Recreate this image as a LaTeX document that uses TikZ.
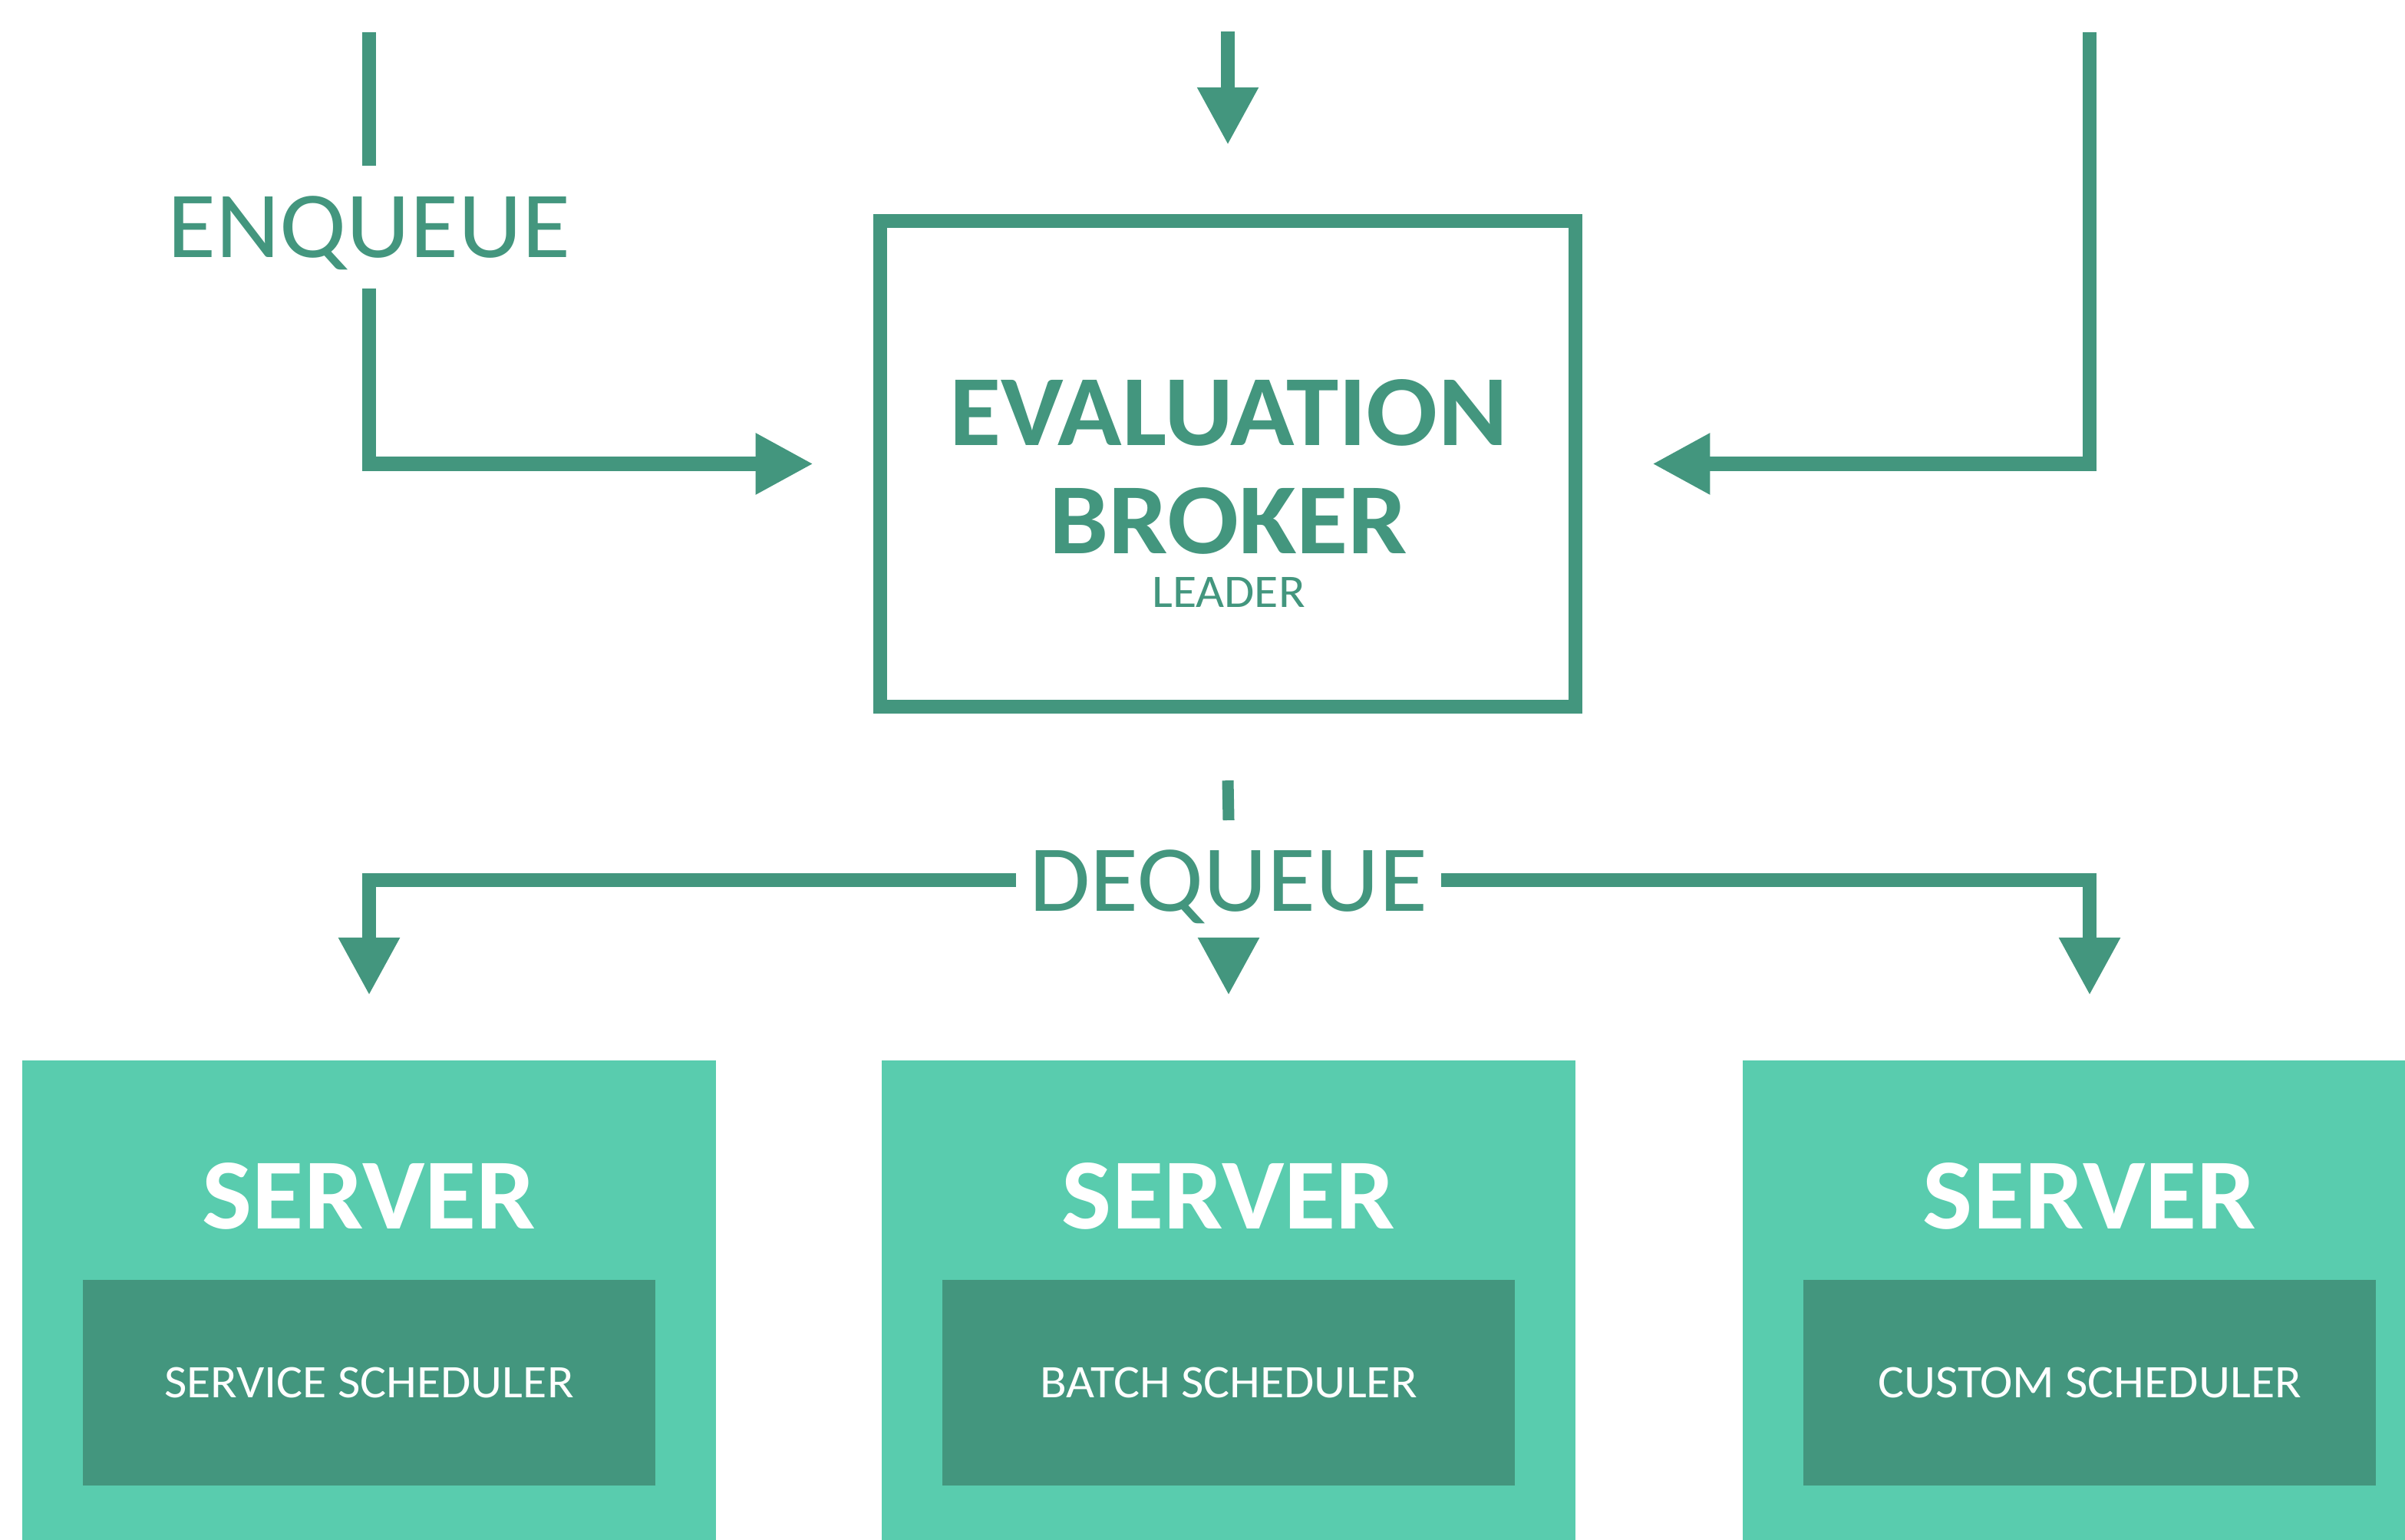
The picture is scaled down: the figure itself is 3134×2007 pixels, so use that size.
\documentclass[tikz,border=0pt]{standalone}
\usepackage{fontspec}
\setmainfont{Carlito}[FakeStretch=1.05]
\usetikzlibrary{arrows.meta,calc}
\definecolor{dk}{RGB}{67,150,126}
\definecolor{lt}{RGB}{89,204,174}
\begin{document}
\begin{tikzpicture}[x=0.01cm,y=-0.01cm,
  conn/.style={draw=dk,line width=0.18cm,line join=miter},
  arr/.style={-{Triangle[length=0.75cm,width=0.75cm]}},
  flowlbl/.style={text=dk,inner sep=0pt,outer sep=0pt,text depth=0pt,font=\fontsize{35pt}{40pt}\selectfont},
  brokerbox/.style={draw=dk,line width=0.18cm,minimum width=9.06cm,minimum height=6.33cm,inner sep=0pt,outer sep=0pt},
  brokertitle/.style={text=dk,inner sep=0pt,outer sep=0pt,anchor=base,font=\fontsize{37.3pt}{40.1pt}\selectfont\bfseries},
  brokersub/.style={text=dk,inner sep=0pt,outer sep=0pt,anchor=base,font=\fontsize{17.3pt}{20pt}\selectfont},
  server/.style={fill=lt,minimum width=9.04cm,minimum height=7cm,inner sep=0pt,outer sep=0pt,anchor=north},
  servertitle/.style={text=white,inner sep=0pt,outer sep=0pt,anchor=base,font=\fontsize{37.3pt}{40pt}\selectfont\bfseries},
  sched/.style={fill=dk,text=white,minimum width=7.46cm,minimum height=2.68cm,inner sep=0pt,outer sep=0pt,text depth=0pt,font=\fontsize{17.3pt}{20pt}\selectfont}
]
\useasboundingbox (0,0) rectangle (3134,2007);
\clip (0,0) rectangle (3134,2007);
\fill[white] (0,0) rectangle (3134,2007);

% broker
\node[brokerbox] (broker) at (1600,604.5) {};
\node[brokertitle] (btitleA) at (1601,581) {EVALUATION};
\node[brokertitle] (btitleB) at (1601,722) {BROKER};
\node[brokersub] (bsub) at (1601,791) {LEADER};

% enqueue
\coordinate (inL) at (481,42);
\coordinate (inM) at (1600,41);
\coordinate (inR) at (2723,42);
\node[flowlbl,text height=0.78cm,minimum height=1.6cm] (enq) at (481,296) {ENQUEUE};
\draw[conn] (inL) -- (enq.north);
\draw[conn,arr] (enq.south) |- ($(broker.west)+(-87,0)$);
\draw[conn,arr] (inM) -- ($(broker.north)+(0,-99)$);
\draw[conn,arr] (inR) |- ($(broker.east)+(100,0)$);

% servers
\node[server] (s1) at (481,1382) {};
\node[server] (s2) at (1601,1382) {};
\node[server] (s3) at (2723,1382) {};
\node[servertitle] (t1) at (481,1601) {SERVER};
\node[servertitle] (t2) at (1601,1601) {SERVER};
\node[servertitle] (t3) at (2723,1601) {SERVER};
\node[sched] (c1) at (481,1802) {SERVICE SCHEDULER};
\node[sched] (c2) at (1601,1802) {BATCH SCHEDULER};
\node[sched] (c3) at (2723,1802) {CUSTOM SCHEDULER};

% dequeue
\node[flowlbl,text height=0.81cm,minimum height=1.56cm,minimum width=5.54cm] (deq) at (1601,1147) {DEQUEUE};
\draw[conn,line width=0.15cm] ($(broker.south)+(0,96)$) -- (deq.north);
\draw[conn,arr] (deq.west) -| ($(s1.north)+(0,-85)$);
\draw[conn,arr] (deq.east) -| ($(s3.north)+(0,-85)$);
\draw[conn,arr] (deq.south) -- ($(s2.north)+(0,-85)$);
\end{tikzpicture}
\end{document}
